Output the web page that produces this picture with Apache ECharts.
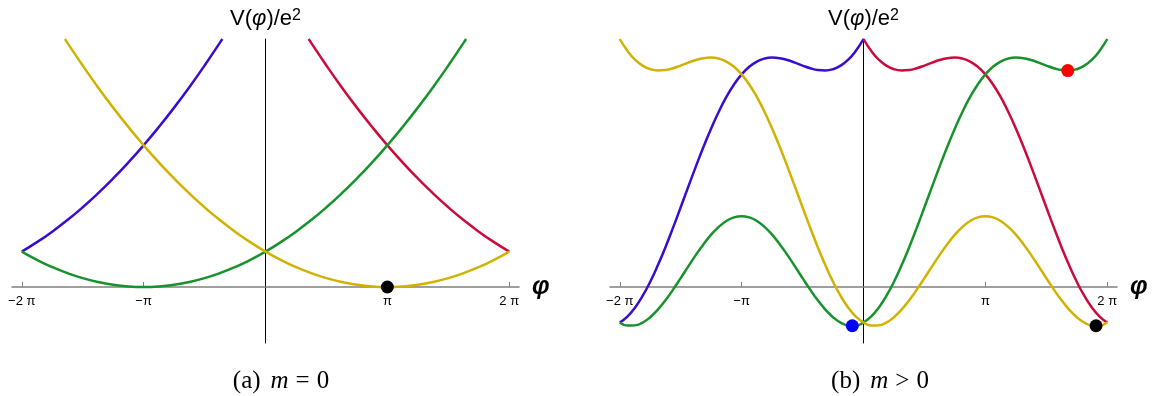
<!DOCTYPE html>
<html>
<head>
<meta charset="utf-8">
<script src="https://cdn.jsdelivr.net/npm/echarts@6/dist/echarts.min.js"></script>
<style>
  html, body { margin: 0; background: #fff; }
  #chart { width: 1153px; height: 396px; }
</style>
</head>
<body>
<div id="chart"></div>
<script>
// x in units of pi, V(phi)/e^2 in arbitrary units
var tickValues = [-2, -1, 1, 2]
var tickLabels = ['\u22122 \u03c0', '\u2212\u03c0', '\u03c0', '2 \u03c0']

// (a) m = 0
var blueA = [[-2, 1], [-1.875, 1.266], [-1.75, 1.563], [-1.625, 1.891], [-1.5, 2.25], [-1.375, 2.641], [-1.25, 3.063],
  [-1.125, 3.516], [-1, 4], [-0.875, 4.516], [-0.75, 5.063], [-0.625, 5.641], [-0.5, 6.25], [-0.375, 6.891], [-0.354, 7]]
var redA = [[0.354, 7], [0.375, 6.891], [0.5, 6.25], [0.625, 5.641], [0.75, 5.063], [0.875, 4.516], [1, 4], [1.125, 3.516],
  [1.25, 3.063], [1.375, 2.641], [1.5, 2.25], [1.625, 1.891], [1.75, 1.563], [1.875, 1.266], [2, 1]]
var greenA = [[-2, 1], [-1.875, 0.766], [-1.75, 0.563], [-1.625, 0.391], [-1.5, 0.25], [-1.375, 0.141], [-1.25, 0.063],
  [-1.125, 0.016], [-1, 0], [-0.875, 0.016], [-0.75, 0.063], [-0.625, 0.141], [-0.5, 0.25], [-0.375, 0.391], [-0.25, 0.563],
  [-0.125, 0.766], [0, 1], [0.125, 1.266], [0.25, 1.563], [0.375, 1.891], [0.5, 2.25], [0.625, 2.641], [0.75, 3.063],
  [0.875, 3.516], [1, 4], [1.125, 4.516], [1.25, 5.063], [1.375, 5.641], [1.5, 6.25], [1.625, 6.891], [1.646, 7]]
var yellowA = [[-1.646, 7], [-1.625, 6.891], [-1.5, 6.25], [-1.375, 5.641], [-1.25, 5.063], [-1.125, 4.516], [-1, 4],
  [-0.875, 3.516], [-0.75, 3.063], [-0.625, 2.641], [-0.5, 2.25], [-0.375, 1.891], [-0.25, 1.563], [-0.125, 1.266], [0, 1],
  [0.125, 0.766], [0.25, 0.563], [0.375, 0.391], [0.5, 0.25], [0.625, 0.141], [0.75, 0.063], [0.875, 0.016], [1, 0],
  [1.125, 0.016], [1.25, 0.063], [1.375, 0.141], [1.5, 0.25], [1.625, 0.391], [1.75, 0.563], [1.875, 0.766], [2, 1]]
var dotsA = [[1, 0]]

// (b) m > 0
var phiB = [-2, -1.9375, -1.875, -1.8125, -1.75, -1.6875, -1.625, -1.5625, -1.5, -1.4375, -1.375, -1.3125, -1.25, -1.1875,
  -1.125, -1.0625, -1, -0.9375, -0.875, -0.8125, -0.75, -0.6875, -0.625, -0.5625, -0.5, -0.4375, -0.375, -0.3125, -0.25,
  -0.1875, -0.125, -0.0625, 0, 0.0625, 0.125, 0.1875, 0.25, 0.3125, 0.375, 0.4375, 0.5, 0.5625, 0.625, 0.6875, 0.75,
  0.8125, 0.875, 0.9375, 1, 1.0625, 1.125, 1.1875, 1.25, 1.3125, 1.375, 1.4375, 1.5, 1.5625, 1.625, 1.6875, 1.75, 1.8125,
  1.875, 1.9375, 2]
var greenB = [-1, -1.083, -1.082, -1.003, -0.852, -0.638, -0.375, -0.074, 0.25, 0.582, 0.906, 1.209, 1.477, 1.698, 1.864,
  1.966, 2, 1.966, 1.864, 1.698, 1.477, 1.209, 0.906, 0.582, 0.25, -0.074, -0.375, -0.638, -0.852, -1.003, -1.082, -1.083,
  -1, -0.833, -0.582, -0.253, 0.148, 0.612, 1.125, 1.676, 2.25, 2.832, 3.406, 3.959, 4.477, 4.948, 5.364, 5.716, 6, 6.216,
  6.364, 6.448, 6.477, 6.459, 6.406, 6.332, 6.25, 6.176, 6.125, 6.112, 6.148, 6.247, 6.418, 6.667, 7]
var yellowB = [7, 6.667, 6.418, 6.247, 6.148, 6.112, 6.125, 6.176, 6.25, 6.332, 6.406, 6.459, 6.477, 6.448, 6.364, 6.216,
  6, 5.716, 5.364, 4.948, 4.477, 3.959, 3.406, 2.832, 2.25, 1.676, 1.125, 0.612, 0.148, -0.253, -0.582, -0.833, -1, -1.083,
  -1.082, -1.003, -0.852, -0.638, -0.375, -0.074, 0.25, 0.582, 0.906, 1.209, 1.477, 1.698, 1.864, 1.966, 2, 1.966, 1.864,
  1.698, 1.477, 1.209, 0.906, 0.582, 0.25, -0.074, -0.375, -0.638, -0.852, -1.003, -1.082, -1.083, -1]
var blueB = [-1, -0.833, -0.582, -0.253, 0.148, 0.612, 1.125, 1.676, 2.25, 2.832, 3.406, 3.959, 4.477, 4.948, 5.364, 5.716,
  6, 6.216, 6.364, 6.448, 6.477, 6.459, 6.406, 6.332, 6.25, 6.176, 6.125, 6.112, 6.148, 6.247, 6.418, 6.667, 7,
  null, null, null, null, null, null, null, null, null, null, null, null, null, null, null, null,
  null, null, null, null, null, null, null, null, null, null, null, null, null, null, null, null]
var redB = [null, null, null, null, null, null, null, null, null, null, null, null, null, null, null, null,
  null, null, null, null, null, null, null, null, null, null, null, null, null, null, null, null,
  7, 6.667, 6.418, 6.247, 6.148, 6.112, 6.125, 6.176, 6.25, 6.332, 6.406, 6.459, 6.477, 6.448, 6.364, 6.216,
  6, 5.716, 5.364, 4.948, 4.477, 3.959, 3.406, 2.832, 2.25, 1.676, 1.125, 0.612, 0.148, -0.253, -0.582, -0.833, -1]
var blueDotB = [[-0.092, -1.093]]
var blackDotB = [[1.908, -1.093]]
var redDotB = [[1.676, 6.11]]

var colors = {
  blue: '#3a0ccf',
  red: '#cc0a3c',
  green: '#17922d',
  yellow: '#d2b200'
}
var sans = 'Liberation Sans'
var serif = 'Liberation Serif'

function pairs (xs, ys) {
  var res = []
  for (var i = 0; i < xs.length; i++) res.push([xs[i], ys[i]])
  return res
}

function makeX (gridIndex) {
  return {
    type: 'value',
    gridIndex: gridIndex,
    min: -2.08,
    max: 2.08,
    // the axis sits at V = 0, 56px above the bottom of the grid
    offset: -56,
    name: '\u03c6',
    nameLocation: 'end',
    nameGap: 13,
    nameTextStyle: { fontFamily: sans, fontSize: 25, fontWeight: 'bold', fontStyle: 'italic', color: '#000', verticalAlign: 'middle' },
    axisLine: { onZero: false, lineStyle: { color: '#808080', width: 1.5 } },
    axisTick: { show: true, inside: true, length: 5, customValues: tickValues, lineStyle: { color: '#808080' } },
    axisLabel: {
      customValues: tickValues,
      formatter: function (v) { return tickLabels[tickValues.indexOf(v)] },
      fontFamily: sans, fontSize: 13, color: '#000', margin: 8
    },
    splitLine: { show: false }
  }
}

function makeY (gridIndex) {
  return {
    type: 'value',
    gridIndex: gridIndex,
    min: -1.58,
    max: 7,
    name: '{n|V(}{i|\u03c6}{n|)/e}{s|2}',
    nameLocation: 'end',
    nameGap: 9,
    nameTextStyle: {
      align: 'center',
      rich: {
        n: { fontFamily: sans, fontSize: 22, color: '#000' },
        i: { fontFamily: sans, fontSize: 22, fontStyle: 'italic', color: '#000' },
        s: { fontFamily: sans, fontSize: 16, color: '#000', verticalAlign: 'top', padding: [0, 0, 5, 0] }
      }
    },
    axisLine: { show: true, onZero: true, lineStyle: { color: '#000', width: 1 } },
    axisTick: { show: false },
    axisLabel: { show: false },
    splitLine: { show: false }
  }
}

function line (idx, data, color) {
  return {
    type: 'line',
    xAxisIndex: idx,
    yAxisIndex: idx,
    data: data,
    smooth: true,
    showSymbol: false,
    symbol: 'none',
    connectNulls: false,
    lineStyle: { color: color, width: 2.5 },
    itemStyle: { color: color },
    silent: true
  }
}

function dot (idx, data, color) {
  return {
    type: 'scatter',
    xAxisIndex: idx,
    yAxisIndex: idx,
    data: data,
    symbolSize: 13,
    itemStyle: { color: color, opacity: 1 },
    z: 5,
    silent: true
  }
}

function caption (x, label, rel) {
  return {
    type: 'text', x: x, y: 381,
    style: {
      text: '{n|' + label + '}{i|m}{r|' + rel + '}{n|0}',
      textAlign: 'center', textVerticalAlign: 'middle',
      rich: {
        n: { fontFamily: serif, fontSize: 25, fill: '#000' },
        i: { fontFamily: serif, fontSize: 25, fontStyle: 'italic', fill: '#000', padding: [0, 0, 0, 10] },
        r: { fontFamily: serif, fontSize: 25, fill: '#000', padding: [0, 7, 0, 7] }
      }
    }
  }
}

var chart = echarts.init(document.getElementById('chart'))
chart.setOption({
  animation: false,
  grid: [
    { left: 12, top: 39, width: 507, height: 304, outerBoundsMode: 'none' },
    { left: 610, top: 39, width: 507, height: 304, outerBoundsMode: 'none' }
  ],
  xAxis: [makeX(0), makeX(1)],
  yAxis: [makeY(0), makeY(1)],
  series: [
    line(0, blueA, colors.blue),
    line(0, redA, colors.red),
    line(0, greenA, colors.green),
    line(0, yellowA, colors.yellow),
    dot(0, dotsA, '#000'),
    line(1, pairs(phiB, blueB), colors.blue),
    line(1, pairs(phiB, redB), colors.red),
    line(1, pairs(phiB, greenB), colors.green),
    line(1, pairs(phiB, yellowB), colors.yellow),
    dot(1, blueDotB, '#0000ff'),
    dot(1, blackDotB, '#000'),
    dot(1, redDotB, '#ff0000')
  ],
  graphic: [
    caption(281, '(a)', '='),
    caption(880, '(b)', '>')
  ]
})
</script>
</body>
</html>
